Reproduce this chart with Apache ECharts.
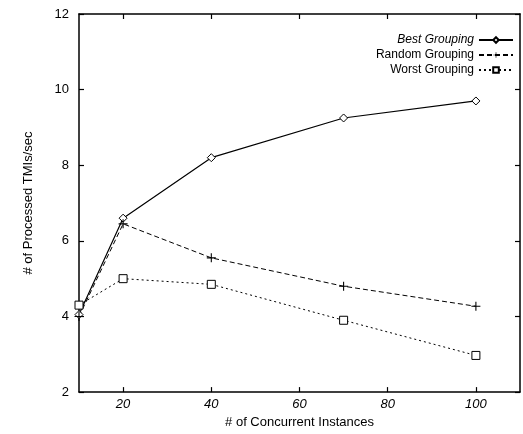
<!DOCTYPE html>
<html lang="en">
<head>
<meta charset="UTF-8">
<title>Processed TMIs vs concurrent instances</title>
<style type="text/css">
  html, body { margin: 0; padding: 0; background: #fff; }
  #a { width: 523px; height: 434px; }
</style>
</head>
<body>
<div id="a"></div>
<script type="text/javascript" src="https://cdn.jsdelivr.net/npm/echarts@6/dist/echarts.min.js"></script>
<script type="text/javascript">
// data
var instances = [10, 20, 40, 70, 100];
var bestGrouping = [4.05, 6.6, 8.2, 9.25, 9.7];
var randomGrouping = [4.0, 6.45, 5.55, 4.8, 4.27];
var worstGrouping = [4.3, 5.0, 4.85, 3.9, 2.97];
var xTicks = [20, 40, 60, 80, 100];
var yTicks = [2, 4, 6, 8, 10, 12];

function pairs(ys) {
  return instances.map(function (x, i) { return [x, ys[i]]; });
}

var font = 'Liberation Sans, Arial, sans-serif';
var plusPath = 'path://M0,4.4H10V5.6H0Z M4.4,0H5.6V10H4.4Z';

var myChart = echarts.init(document.getElementById('a'));

var axisLine = { show: true, lineStyle: { color: '#000', width: 1.5 } };
var tick = { show: true, inside: true, length: 5, lineStyle: { color: '#000', width: 1.2 } };

var option = {
  animation: false,
  backgroundColor: '#fff',
  grid: { left: 79, right: 3, top: 14, bottom: 35 },
  legend: {
    orient: 'vertical',
    right: 4,
    top: 29,
    align: 'right',
    itemWidth: 34,
    itemHeight: 7,
    itemGap: 3,
    textStyle: {
      fontFamily: font, fontSize: 12, color: '#000',
      rich: { i: { fontStyle: 'italic', fontFamily: font, fontSize: 12, color: '#000' } }
    },
    formatter: function (name) {
      return name === 'Best Grouping' ? '{i|' + name + '}' : name;
    },
    data: ['Best Grouping', 'Random Grouping', 'Worst Grouping']
  },
  xAxis: [{
    type: 'value', min: 10, max: 110,
    name: '# of Concurrent Instances',
    nameLocation: 'middle', nameGap: 22,
    nameTextStyle: { fontFamily: font, fontSize: 13, color: '#000' },
    axisLine: axisLine,
    axisTick: Object.assign({ customValues: xTicks }, tick),
    axisLabel: { customValues: xTicks, fontFamily: font, fontSize: 13, fontStyle: 'italic', color: '#000', margin: 6 },
    splitLine: { show: false }
  }, {
    type: 'value', min: 10, max: 110, position: 'top',
    axisLine: axisLine,
    axisTick: Object.assign({ customValues: xTicks }, tick),
    axisLabel: { show: false },
    splitLine: { show: false }
  }],
  yAxis: [{
    type: 'value', min: 2, max: 12, interval: 2,
    name: '# of Processed TMIs/sec',
    nameLocation: 'middle', nameGap: 44,
    nameTextStyle: { fontFamily: font, fontSize: 13, color: '#000' },
    axisLine: axisLine,
    axisTick: tick,
    axisLabel: { fontFamily: font, fontSize: 13, color: '#000', margin: 10 },
    splitLine: { show: false }
  }, {
    type: 'value', min: 2, max: 12, interval: 2, position: 'right',
    axisLine: axisLine,
    axisTick: tick,
    axisLabel: { show: false },
    splitLine: { show: false }
  }],
  series: [{
    name: 'Best Grouping', type: 'line', data: pairs(bestGrouping),
    symbol: 'diamond', symbolSize: 8,
    lineStyle: { color: '#000', width: 1.2, type: 'solid' },
    itemStyle: { color: '#fff', borderColor: '#000', borderWidth: 1 }
  }, {
    name: 'Random Grouping', type: 'line', data: pairs(randomGrouping),
    symbol: plusPath, symbolSize: 9,
    lineStyle: { color: '#000', width: 1, type: [5, 3] },
    itemStyle: { color: '#000' }
  }, {
    name: 'Worst Grouping', type: 'line', data: pairs(worstGrouping),
    symbol: 'rect', symbolSize: 8,
    lineStyle: { color: '#000', width: 1, type: [2, 3] },
    itemStyle: { color: '#fff', borderColor: '#000', borderWidth: 1 }
  }]
};

myChart.setOption(option);
</script>
</body>
</html>
